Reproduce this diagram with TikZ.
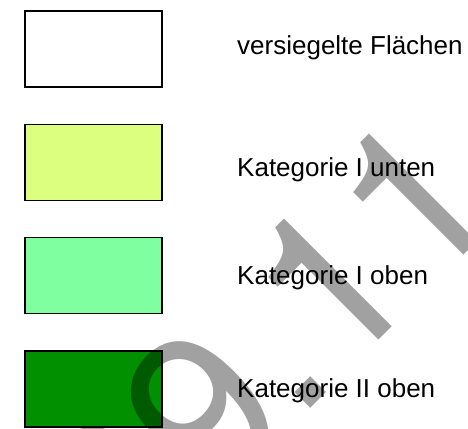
\documentclass[tikz,border=0pt]{standalone}
\usepackage{fontspec}
\setmainfont{Liberation Sans}
\newfontfamily\stempelfont{TeX Gyre Heros}
\usepackage{tikz}

\definecolor{versiegelt}{RGB}{255,255,255}
\definecolor{katIu}{RGB}{221,255,128}
\definecolor{katIo}{RGB}{128,255,160}
\definecolor{katIIo}{RGB}{0,144,0}

\begin{document}
\begin{tikzpicture}
  [x=1pt,y=-1pt,
   feld/.style={draw=black,line width=1.6pt,minimum width=137pt,minimum height=76pt,inner sep=0pt},
   legtext/.style={anchor=base west,inner sep=0pt,font=\fontsize{26}{30}\selectfont},
   wasser/.style={anchor=base west,inner sep=0pt,rotate=45,text=black,text opacity=0.37,font=\stempelfont\fontsize{215}{215}\selectfont}]
  \useasboundingbox (0,0) rectangle (468,428);
  \clip (0,0) rectangle (468,428);

  \node[feld,fill=versiegelt] (box1) at (93.5,49)    {};
  \node[feld,fill=katIu]      (box2) at (93.5,162.5) {};
  \node[feld,fill=katIo]      (box3) at (93.5,275.5) {};
  \node[feld,fill=katIIo]     (box4) at (93.5,389)   {};

  % Wasserzeichen
  \node[wasser] (stempel) at (128.5,590.5) {09.11.0};

  \node[legtext] (lab1) at (237,55)  {versiegelte Flächen};
  \node[legtext] (lab2) at (237,176) {Kategorie I unten};
  \node[legtext] (lab3) at (237,284) {Kategorie I oben};
  \node[legtext] (lab4) at (237,397) {Kategorie II oben};
\end{tikzpicture}
\end{document}
